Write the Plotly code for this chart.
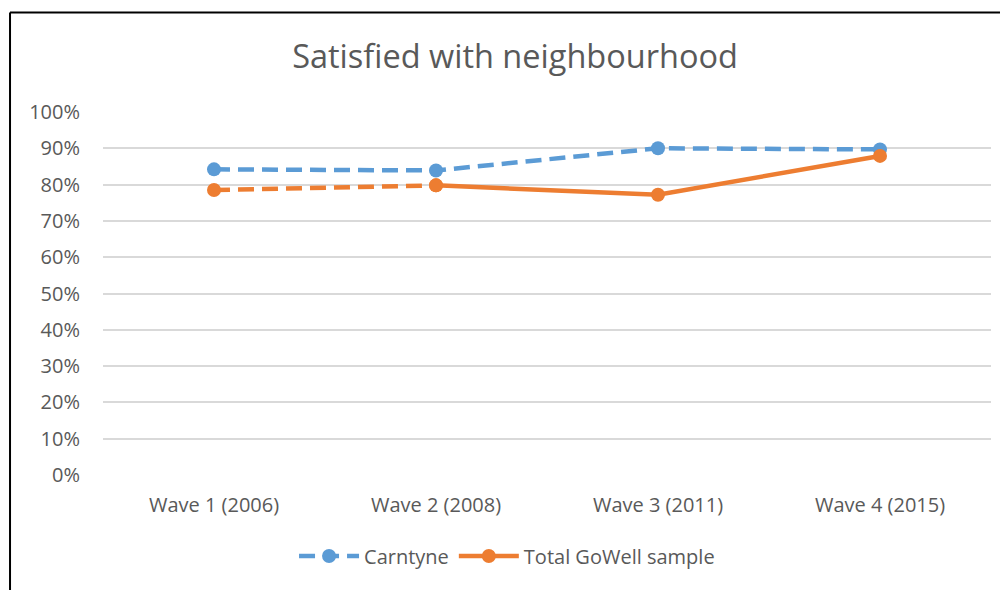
import plotly.graph_objects as go

waves = ['Wave 1 (2006)', 'Wave 2 (2008)', 'Wave 3 (2011)', 'Wave 4 (2015)']
carntyne = [0.842, 0.839, 0.900, 0.897]
gowell_total = [0.785, 0.798, 0.772, 0.879]

blue = '#5B9BD5'
orange = '#ED7D31'
grey_text = '#595959'
font_family = 'Open Sans'

fig = go.Figure()

fig.add_trace(go.Scatter(
    x=waves, y=carntyne, name='Carntyne', mode='lines+markers',
    line=dict(color=blue, width=4.5, dash='16px,8px'),
    marker=dict(size=14, color=blue)))

# first GoWell segment is dashed in the original, rest solid
fig.add_trace(go.Scatter(
    x=waves[:2], y=gowell_total[:2], mode='lines+markers', showlegend=False,
    line=dict(color=orange, width=4.5, dash='16px,8px'),
    marker=dict(size=14, color=orange)))
fig.add_trace(go.Scatter(
    x=waves[1:], y=gowell_total[1:], name='Total GoWell sample', mode='lines+markers',
    line=dict(color=orange, width=4.5),
    marker=dict(size=14, color=orange)))

# chart border (left and top edges visible)
border = dict(type='line', xref='paper', yref='paper', line=dict(color='black', width=2))
fig.add_shape(x0=-0.1047, x1=-0.1047, y0=1.274, y1=-0.4, **border)
fig.add_shape(x0=-0.1047, x1=1.2, y0=1.274, y1=1.274, **border)

fig.update_layout(
    width=1008, height=590,
    margin=dict(l=95, r=25, t=104, b=123),
    paper_bgcolor='white', plot_bgcolor='white',
    font=dict(family=font_family, color=grey_text, size=20),
    title=dict(text='Satisfied with neighbourhood', x=0.503, xref='container', xanchor='center',
               y=0.917, yref='container', yanchor='middle',
               font=dict(size=32.5, color=grey_text, family=font_family)),
    legend=dict(orientation='h', x=0.455, xanchor='center', y=-0.223, yanchor='middle',
                font=dict(size=20, color=grey_text), itemwidth=60),
    xaxis=dict(range=[-0.5, 3.5], showgrid=False, showline=False, zeroline=False,
               ticks='', tickfont=dict(size=20, color=grey_text), ticklabelstandoff=16),
    yaxis=dict(range=[0, 1.0], dtick=0.1, tickformat='.0%', showgrid=True,
               gridcolor='#D9D9D9', gridwidth=1.5, zeroline=False, showline=False,
               ticks='', tickfont=dict(size=20, color=grey_text), ticklabelstandoff=22),
)

fig.write_html('out.html')
